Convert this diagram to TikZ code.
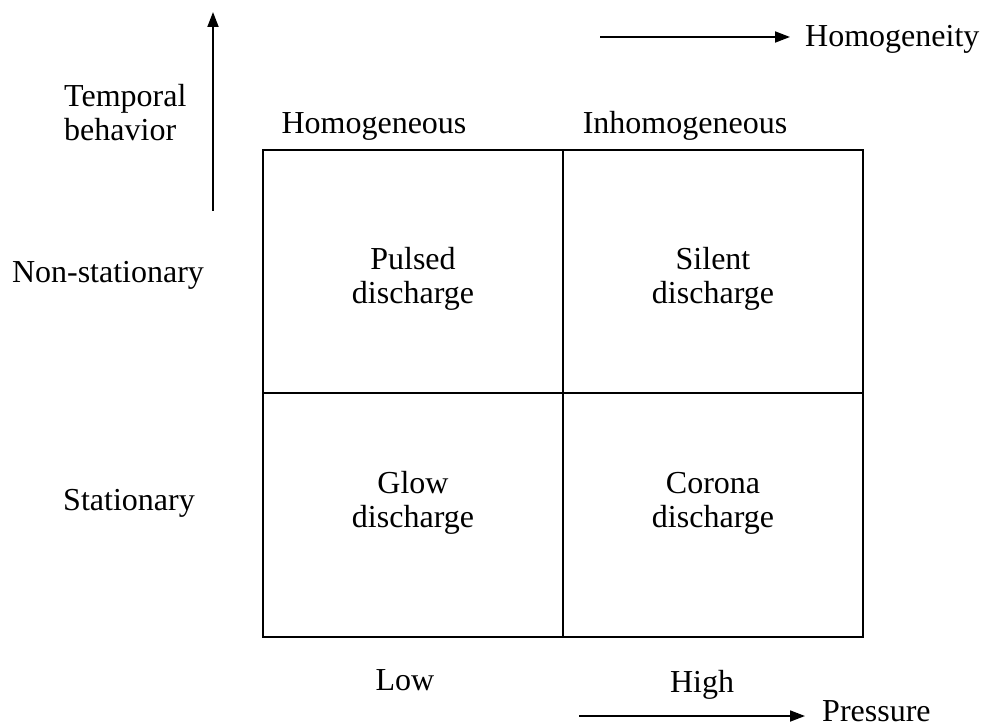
\documentclass[tikz,border=0pt]{standalone}
\usepackage{fontspec}
\setmainfont{Liberation Serif}
\usetikzlibrary{arrows.meta}
\begin{document}
\begin{tikzpicture}[x=1pt,y=-1pt,
  lbl/.style={inner sep=0pt,font=\fontsize{32}{34}\selectfont,anchor=base},
  cell/.style={inner sep=0pt,font=\fontsize{32}{34}\selectfont,align=center,anchor=base},
  grid/.style={line width=2pt},
  axis/.style={line width=1.8pt,-{Triangle[length=15pt,width=11pt]}}]
\useasboundingbox (0,0) rectangle (984,727);
% frame corners
\coordinate (tl) at (263,150);
\coordinate (tr) at (863,150);
\coordinate (bl) at (263,637);
\coordinate (br) at (863,637);
\coordinate (tm) at (563,150);
\coordinate (bm) at (563,637);
\coordinate (ml) at (263,393);
\coordinate (mr) at (863,393);
\draw[grid] (tl) rectangle (br);
\draw[grid] (tm) -- (bm);
\draw[grid] (ml) -- (mr);
% axis arrows
\coordinate (tb0) at (213,211);
\coordinate (tb1) at (213,12);
\draw[axis] (tb0) -- (tb1);
\coordinate (h0) at (600,37);
\coordinate (h1) at (790,37);
\draw[axis] (h0) -- (h1);
\coordinate (p0) at (579,716);
\coordinate (p1) at (805,716);
\draw[axis] (p0) -- (p1);
% axis and column/row labels
\node[lbl,anchor=base west] (homy) at (805,47) {Homogeneity};
\node[lbl,anchor=base west] (pres) at (822,721) {Pressure};
\node[cell,align=left,anchor=base west] (temp) at (64,141) {Temporal\\behavior};
\node[lbl] (hom) at (374,134) {Homogeneous};
\node[lbl] (inh) at (685,134) {Inhomogeneous};
\node[lbl] (nst) at (108,282) {Non-stationary};
\node[lbl] (sta) at (129,510) {Stationary};
\node[lbl] (low) at (405,690) {Low};
\node[lbl] (high) at (702,692) {High};
% discharge types
\node[cell] (pul) at (413,303) {Pulsed\\discharge};
\node[cell] (sil) at (713,303) {Silent\\discharge};
\node[cell] (glo) at (413,527) {Glow\\discharge};
\node[cell] (cor) at (713,527) {Corona\\discharge};
\end{tikzpicture}
\end{document}
